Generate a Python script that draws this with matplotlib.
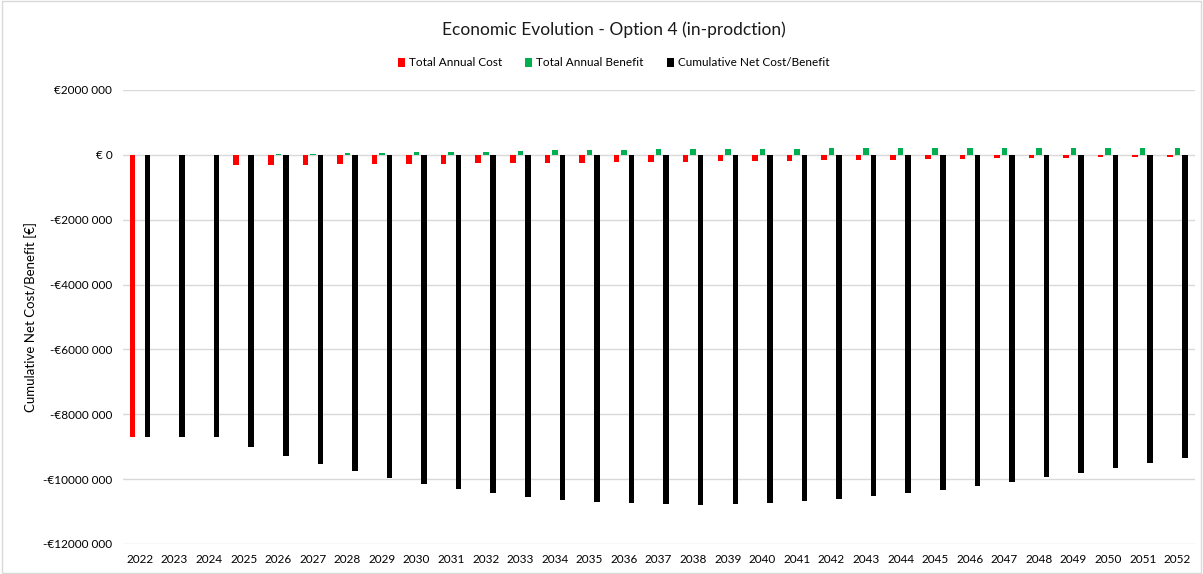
import matplotlib
matplotlib.use("Agg")
import matplotlib.pyplot as plt
from matplotlib.patches import Patch, Rectangle
from matplotlib.ticker import FuncFormatter
import numpy as np

plt.rcParams['font.family'] = ['Lato', 'DejaVu Sans']

years = [str(y) for y in range(2022, 2053)]
annual_cost = [-8.71, 0, 0, -0.31, -0.30, -0.30, -0.29, -0.29, -0.29, -0.27,
               -0.26, -0.26, -0.25, -0.24, -0.23, -0.22, -0.21, -0.20, -0.19, -0.18,
               -0.17, -0.155, -0.145, -0.135, -0.115, -0.105, -0.095, -0.085, -0.075, -0.065,
               -0.06]
annual_benefit = [0, 0, 0, 0, 0.01, 0.04, 0.05, 0.07, 0.08, 0.10,
                  0.10, 0.125, 0.135, 0.145, 0.155, 0.165, 0.165, 0.175, 0.19, 0.19,
                  0.20, 0.20, 0.20, 0.20, 0.20, 0.20, 0.20, 0.20, 0.20, 0.20,
                  0.20]
cumulative = [-8.71, -8.71, -8.71, -9.00, -9.28, -9.52, -9.75, -9.96, -10.15, -10.30,
              -10.44, -10.54, -10.63, -10.71, -10.75, -10.78, -10.79, -10.77, -10.74, -10.68,
              -10.61, -10.53, -10.44, -10.33, -10.22, -10.08, -9.95, -9.80, -9.66, -9.50,
              -9.34]
scale = 1e6
yticks = [2, 0, -2, -4, -6, -8, -10, -12]

fig = plt.figure(figsize=(12.03, 5.74), dpi=100)
fig.patches.append(Rectangle((0.0015, 0.002), 0.997, 0.996, transform=fig.transFigure,
                             fill=False, edgecolor='#d9d9d9', linewidth=1))
ax = fig.add_axes([0.102, 0.0523, 0.891, 0.791])

x = np.arange(len(years))
w = 0.16
off = 0.217
ax.bar(x - off, np.array(annual_cost) * scale, width=w, color='#ff0000', zorder=3)
ax.bar(x, np.array(annual_benefit) * scale, width=w, color='#00b050', zorder=3)
ax.bar(x + off, np.array(cumulative) * scale, width=w, color='#000000', zorder=3)

ax.set_xlim(-0.5, len(years) - 0.5)
ax.set_ylim(-12e6, 2e6)
ax.set_yticks([v * scale for v in yticks])

def fmt(v, pos):
    m = int(round(v / scale))
    if m == 0:
        return '€ 0'
    s = f"{abs(m) * 1000:d} 000"
    return ('-€' if m < 0 else '€') + s
ax.yaxis.set_major_formatter(FuncFormatter(fmt))
ax.set_xticks(x)
ax.set_xticklabels(years)
ax.tick_params(axis='both', length=0, labelsize=8.5, colors='#000000')
ax.tick_params(axis='x', pad=7)
ax.tick_params(axis='y', pad=7.5)
for s in ax.spines.values():
    s.set_visible(False)
ax.grid(axis='y', color='#d9d9d9', linewidth=1, zorder=0)
ax.set_axisbelow(True)
ax.set_ylabel('Cumulative Net Cost/Benefit [€]', fontsize=9.5, labelpad=4)

fig.text(0.51, 1 - 30 / 574, 'Economic Evolution - Option 4 (in-prodction)',
         ha='center', va='center', fontsize=12.5, color='#1a1a1a')

handles = [Patch(facecolor='#ff0000', label='Total Annual Cost'),
           Patch(facecolor='#00b050', label='Total Annual Benefit'),
           Patch(facecolor='#000000', label='Cumulative Net Cost/Benefit')]
fig.legend(handles=handles, loc='center', bbox_to_anchor=(0.51, 1 - 63 / 574), ncol=3,
           frameon=False, fontsize=8.5, handlelength=0.6, handleheight=0.8,
           handletextpad=0.3, columnspacing=2.0)

fig.savefig('out.png', dpi=100)
